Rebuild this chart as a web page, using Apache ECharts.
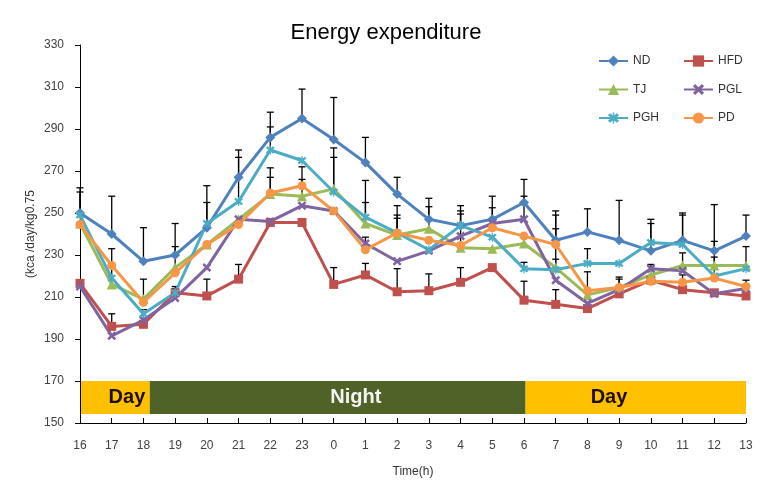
<!DOCTYPE html>
<html>
<head>
<meta charset="utf-8">
<script src="https://cdn.jsdelivr.net/npm/echarts@6/dist/echarts.min.js"></script>
<style>html,body{margin:0;padding:0;background:#fff;}#c{width:772px;height:493px;}</style>
</head>
<body>
<div id="c"></div>
<script>
const hours = ['16','17','18','19','20','21','22','23','0','1','2','3','4','5','6','7','8','9','10','11','12','13'];
const yTicks = {min:150, max:330, step:20};

const ND  = [250, 240, 227, 230, 243, 267, 286, 295, 285, 274, 259, 247, 244, 247, 255, 237, 241, 237, 232, 237, 232, 239];
const HFD = [216.5, 196, 197, 212, 210.5, 218.5, 245.5, 245.5, 216, 220.5, 212.5, 213, 217, 224, 208.5, 206.5, 204.5, 211.5, 218, 213.5, 212, 210.5];
const TJ  = [245, 216, 209, 224, 235, 247, 259, 258, 261.5, 245, 239.5, 242.5, 233.5, 233, 235.5, 224, 211, 214.5, 220.5, 225, 225, 225];
const PGL = [215, 191.5, 199, 209.5, 224, 247, 246, 253.5, 251, 235.5, 227, 232, 239, 245, 247, 218, 207, 213.5, 223.5, 222.5, 211.5, 214];
const PGH = [249, 219, 202, 212, 245, 255.5, 280, 275, 260, 248, 240.5, 232.5, 244, 238.5, 223.5, 223, 226, 226, 236, 235, 220, 223.5];
const PD  = [244.5, 225, 207.5, 221.5, 235, 244.5, 259.5, 263, 251, 232.5, 240.5, 237, 234.5, 243, 239, 235, 213, 214.5, 217.5, 217, 219, 215];

const ND_err  = [12, 18, 16, 15, 20, 13, 12, 14, 20, 12, 8, 10, 9.5, 11, 11, 14, 11, 19, 15, 13, 22, 10];
const HFD_err = [null, 6, 7, 3, 8, 7, null, null, 8, 5.5, 11, 8, 7, null, 9, 7, null, null, null, null, null, null];
const TJ_err  = [null, null, null, 10, null, null, 8, 8, 15, 10, 9.5, 10.5, null, null, null, 18.5, null, 4, 5, 6, 11.5, null];
const PGL_err = [null, null, null, null, null, null, null, null, null, null, null, null, null, null, 11, null, null, null, null, null, null, 4];
const PGH_err = [11, 14, null, 2, 10, 21, 11, null, 21, 17.5, 13, null, 7, null, 3, 5, 7, null, 9, 14, 9, 10.5];
const PD_err  = [null, null, 11, null, null, null, 12, 9, null, 6, 7, null, 15, 9.5, null, 14, 9, 5, null, 3.5, null, null];

const phaseNames   = ['Day', 'Night', 'Day'];
const phaseStart   = [0, 2.2, 14.05];
const phaseEnd     = [2.2, 14.05, 21];
const phaseLabelAt = [1.48, 8.7, 16.68];
const bandRange    = [154.3, 170];

const FONT = 'Arial, "Liberation Sans", Helvetica, sans-serif';
const xShape = 'path://M2,0 L5,3 L8,0 L10,2 L7,5 L10,8 L8,10 L5,7 L2,10 L0,8 L3,5 L0,2 Z';
const starShape = 'path://M2,0 L5,3 L8,0 L10,2 L7,5 L10,8 L8,10 L5,7 L2,10 L0,8 L3,5 L0,2 Z M4.3,-1 L5.7,-1 L5.7,11 L4.3,11 Z';

const seriesDefs = [
  {name:'ND',  data:ND,  err:ND_err,  color:'#4F81BD', symbol:'diamond', size:10},
  {name:'HFD', data:HFD, err:HFD_err, color:'#C0504D', symbol:'rect', size:9},
  {name:'TJ',  data:TJ,  err:TJ_err,  color:'#9BBB59', symbol:'triangle', size:10},
  {name:'PGL', data:PGL, err:PGL_err, color:'#8064A2', symbol:xShape, size:9},
  {name:'PGH', data:PGH, err:PGH_err, color:'#4BACC6', symbol:starShape, size:9},
  {name:'PD',  data:PD,  err:PD_err,  color:'#F79646', symbol:'circle', size:9}
];

function errSeries(d) {
  const data = [];
  d.data.forEach((v, i) => { if (d.err[i] != null) data.push([i, v, v + d.err[i]]); });
  return {
    type: 'custom', silent: true, z: 1, xAxisIndex: 0, yAxisIndex: 0,
    data: data,
    encode: {x: 0, y: [1, 2]},
    renderItem: function (params, api) {
      const x = api.value(0);
      const p0 = api.coord([x, api.value(1)]);
      const p1 = api.coord([x, api.value(2)]);
      const w = 3.5;
      return {type: 'group', children: [
        {type: 'line', shape: {x1: p0[0], y1: p0[1], x2: p1[0], y2: p1[1]}, style: {stroke: '#000', lineWidth: 1.3}},
        {type: 'line', shape: {x1: p1[0] - w, y1: p1[1], x2: p1[0] + w, y2: p1[1]}, style: {stroke: '#000', lineWidth: 1.3}}
      ]};
    }
  };
}

const bandData = phaseNames.map((n, i) => [phaseStart[i], phaseEnd[i], bandRange[0], bandRange[1], phaseLabelAt[i], n]);
const bandColors = {Day: '#FFC000', Night: '#4F6228'};
const bandText = {Day: '#1E0E00', Night: '#F4F4F4'};

const bandSeries = {
  type: 'custom', silent: true, z: 0, xAxisIndex: 1, yAxisIndex: 0,
  data: bandData,
  dimensions: ['s', 'e', 'lo', 'hi', 'lab', {name: 'name', type: 'ordinal'}],
  encode: {x: [0, 1], y: [2, 3]},
  renderItem: function (params, api) {
    const d = bandData[params.dataIndex];
    const a = api.coord([d[0], d[3]]);
    const b = api.coord([d[1], d[2]]);
    const t = api.coord([d[4], (d[2] + d[3]) / 2]);
    return {type: 'group', children: [
      {type: 'rect', shape: {x: a[0], y: a[1], width: b[0] - a[0], height: b[1] - a[1]}, style: {fill: bandColors[d[5]]}},
      {type: 'text', x: t[0], y: t[1], style: {text: d[5], fill: bandText[d[5]], font: 'bold 20px ' + FONT, align: 'center', verticalAlign: 'middle'}}
    ]};
  }
};

const lineSeries = seriesDefs.map(d => ({
  name: d.name, type: 'line', data: d.data, z: 3,
  symbol: d.symbol, symbolSize: d.size, showAllSymbol: true,
  lineStyle: {color: d.color, width: 3},
  itemStyle: {color: d.color, borderWidth: 0},
  emphasis: {disabled: true}, animation: false
}));

const option = {
  animation: false,
  backgroundColor: '#fff',
  title: {text: 'Energy expenditure', left: 'center', top: 17,
    textStyle: {fontFamily: FONT, fontSize: 22, fontWeight: 'normal', color: '#000'}},
  legend: [
    {data: ['ND', 'TJ', 'PGH'], orient: 'vertical', left: 593, top: 50, itemWidth: 29, itemHeight: 14, itemGap: 16.5,
      textStyle: {fontFamily: FONT, fontSize: 12, color: '#333'}, selectedMode: false},
    {data: ['HFD', 'PGL', 'PD'], orient: 'vertical', left: 678, top: 50, itemWidth: 29, itemHeight: 14, itemGap: 16.5,
      textStyle: {fontFamily: FONT, fontSize: 12, color: '#333'}, selectedMode: false}
  ],
  grid: {left: 80, right: 26, top: 45, bottom: 70},
  xAxis: [
    {type: 'category', data: hours, boundaryGap: false,
      name: 'Time(h)', nameLocation: 'middle', nameGap: 43, nameMoveOverlap: false,
      nameTextStyle: {fontFamily: FONT, fontSize: 12, color: '#333'},
      axisLine: {lineStyle: {color: '#000', width: 1}},
      axisTick: {inside: true, length: 5, lineStyle: {color: '#000'}},
      axisLabel: {interval: 0, margin: 17, fontFamily: FONT, fontSize: 12, color: '#404040'},
      splitLine: {show: false}},
    {type: 'value', min: 0, max: hours.length - 1, show: false}
  ],
  yAxis: {type: 'value', min: yTicks.min, max: yTicks.max, interval: yTicks.step,
    name: '(kca /day/kg0.75', nameLocation: 'middle', nameGap: 43, nameMoveOverlap: false,
    nameTextStyle: {fontFamily: FONT, fontSize: 12, color: '#333'},
    axisLine: {show: true, lineStyle: {color: '#000', width: 1}},
    axisTick: {show: true, inside: false, length: 5, lineStyle: {color: '#000'}},
    axisLabel: {margin: 16, fontFamily: FONT, fontSize: 12, color: '#404040'},
    splitLine: {show: false}},
  series: [bandSeries].concat(seriesDefs.map(errSeries), lineSeries)
};

const chart = echarts.init(document.getElementById('c'), null, {renderer: 'canvas'});
chart.setOption(option);
</script>
</body>
</html>
